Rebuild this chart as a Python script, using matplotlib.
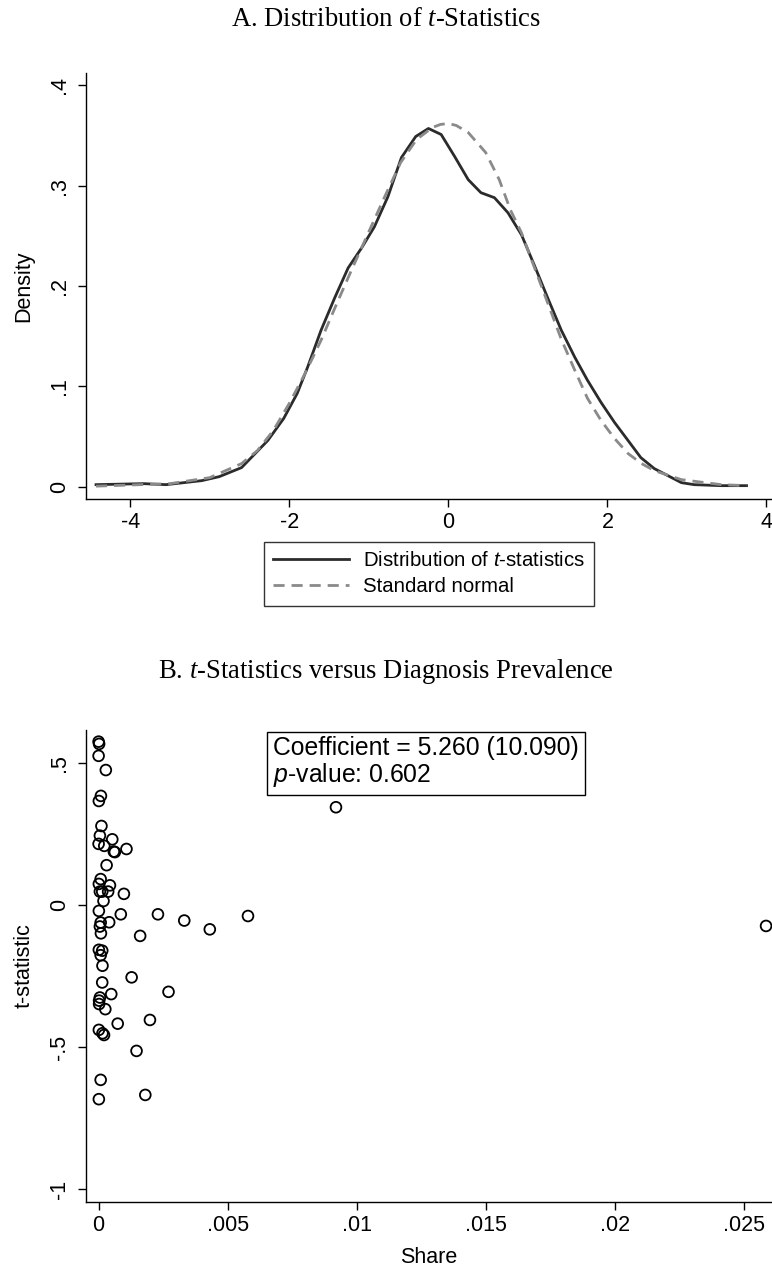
import matplotlib
matplotlib.use("Agg")
import matplotlib.pyplot as plt

plt.rcParams['font.family'] = ['Liberation Sans', 'DejaVu Sans']
plt.rcParams['axes.unicode_minus'] = False
plt.rcParams['mathtext.fontset'] = 'custom'
plt.rcParams['mathtext.it'] = 'Liberation Sans:italic'
plt.rcParams['mathtext.rm'] = 'Liberation Sans'
plt.rcParams['mathtext.sf'] = 'Liberation Serif:italic'

# panel A: kernel density of t-statistics vs normal reference
x_t = [-4.43, -3.83, -3.55, -3.10, -2.88, -2.60, -2.27, -2.07, -1.90, -1.77, -1.60, -1.43,
       -1.26, -1.09, -0.93, -0.76, -0.59, -0.41, -0.25, -0.09, 0.08, 0.25, 0.41, 0.58,
       0.75, 0.92, 1.08, 1.25, 1.42, 1.59, 1.75, 1.92, 2.09, 2.26, 2.42, 2.59, 2.76,
       2.93, 3.09, 3.43, 3.75]
dens_t = [0.002, 0.003, 0.002, 0.006, 0.010, 0.019, 0.046, 0.068, 0.093, 0.119, 0.156, 0.188,
          0.218, 0.238, 0.259, 0.289, 0.328, 0.349, 0.357, 0.351, 0.329, 0.306, 0.293, 0.288,
          0.273, 0.251, 0.221, 0.188, 0.156, 0.129, 0.106, 0.084, 0.064, 0.046, 0.029, 0.018,
          0.011, 0.004, 0.002, 0.001, 0.001]

x_n = [-4.43, -3.5, -3.0, -2.6, -2.4, -2.2, -2.0, -1.8, -1.6, -1.4, -1.2, -1.0, -0.8, -0.6,
       -0.4, -0.2, -0.1, 0.0, 0.1, 0.25, 0.47, 0.64, 0.78, 0.92, 1.08, 1.25, 1.42, 1.59,
       1.75, 1.92, 2.09, 2.26, 2.43, 2.59, 2.93, 3.43, 3.75]
dens_n = [0.0005, 0.003, 0.009, 0.023, 0.036, 0.056, 0.083, 0.113, 0.146, 0.183, 0.219, 0.254,
          0.289, 0.323, 0.346, 0.358, 0.361, 0.362, 0.360, 0.353, 0.333, 0.306, 0.276, 0.253,
          0.219, 0.183, 0.147, 0.116, 0.088, 0.066, 0.048, 0.033, 0.023, 0.016, 0.007, 0.002,
          0.001]

# panel B: t-statistic vs share
share = [0.0, 0.00002, 0.0, 0.00028, 0.00009, 0.00001, 0.00011, 0.00005, 0.00053, 0.0,
         0.00022, 0.00059, 0.00063, 0.00108, 0.00031, 0.00008, 0.00001, 0.00044, 0.00005,
         0.00014, 0.00037, 0.00098, 0.00019, 0.00001, 0.00086, 0.00230, 0.00008, 0.00041,
         0.00005, 0.00009, 0.00332, 0.00431, 0.00579, 0.00161, 0.00001, 0.00014, 0.00008,
         0.00015, 0.00128, 0.00014, 0.00271, 0.00049, 0.00005, 0.00002, 0.00002, 0.00026,
         0.00199, 0.00074, 0.00001, 0.00015, 0.00021, 0.00147, 0.00008, 0.00001, 0.00181,
         0.00920, 0.02587]
tstat = [0.576, 0.568, 0.526, 0.476, 0.385, 0.367, 0.279, 0.245, 0.232, 0.216,
         0.209, 0.189, 0.187, 0.198, 0.141, 0.092, 0.075, 0.070, 0.048,
         0.048, 0.048, 0.040, 0.015, -0.020, -0.032, -0.032, -0.061, -0.060,
         -0.075, -0.099, -0.054, -0.085, -0.038, -0.108, -0.157, -0.160, -0.176,
         -0.213, -0.254, -0.272, -0.305, -0.313, -0.325, -0.336, -0.348, -0.366,
         -0.404, -0.417, -0.439, -0.451, -0.457, -0.513, -0.615, -0.683, -0.668,
         0.345, -0.073]

coef_text = "Coefficient = 5.260 (10.090)\n$p$-value: 0.602"

W, H = 772, 1271
fig = plt.figure(figsize=(W / 100, H / 100), dpi=100)

def style(ax):
    for s in ['top', 'right']:
        ax.spines[s].set_visible(False)
    for s in ['left', 'bottom']:
        ax.spines[s].set_linewidth(1.0)
    ax.tick_params(direction='out', length=6, width=1.0, labelsize=15.5)
    ax.tick_params(axis='y', pad=5)
    for lab in ax.get_yticklabels():
        lab.set_rotation(90)
        lab.set_va('center')

def fmt(v):
    s = ('%g' % v)
    return s.replace('0.', '.', 1) if s.startswith('0.') else s.replace('-0.', '-.', 1)

# ---- panel A
axA = fig.add_axes([85.7 / W, 1 - 499.3 / H, 1 - 85.7 / W, (499.3 - 73.3) / H])
axA.plot(x_t, dens_t, color='#2b2b2b', lw=2.0, label='Distribution of $t$-statistics')
axA.plot(x_n, dens_n, color='#8a8a8a', lw=2.0, dashes=(4, 2.5), label='Standard normal')
axA.set_xlim(-4.56, 4.07)
axA.set_ylim(-0.0126, 0.412)
axA.set_xticks([-4, -2, 0, 2, 4])
axA.set_yticks([0, 0.1, 0.2, 0.3, 0.4])
axA.set_yticklabels([fmt(v) for v in [0, 0.1, 0.2, 0.3, 0.4]])
axA.set_ylabel('Density', fontsize=15.5, labelpad=11)
style(axA)
leg = axA.legend(loc='upper left', bbox_to_anchor=(264 / W, 1 - 542 / H),
                 bbox_transform=fig.transFigure, fontsize=14.7, frameon=True,
                 fancybox=False, handlelength=3.7, handletextpad=0.7,
                 borderpad=0.45, labelspacing=0.35, borderaxespad=0)
leg.get_frame().set_edgecolor('black')
leg.get_frame().set_linewidth(1.0)
fig.text(0.5, 1 - 20 / H, r'A. Distribution of $\mathsf{t}$-Statistics', ha='center',
         va='center', family='Liberation Serif', fontsize=19.2)

# ---- panel B
axB = fig.add_axes([85.7 / W, 1 - 1201.7 / H, 1 - 85.7 / W, (1201.7 - 730) / H])
axB.scatter(share, tstat, s=60, facecolors='none', edgecolors='black', linewidths=1.3)
axB.set_xlim(-0.0005, 0.0261)
axB.set_ylim(-1.044, 0.617)
xt = [0, 0.005, 0.01, 0.015, 0.02, 0.025]
axB.set_xticks(xt)
axB.set_xticklabels([fmt(v) for v in xt])
yt = [-1, -0.5, 0, 0.5]
axB.set_yticks(yt)
axB.set_yticklabels([fmt(v) for v in yt])
axB.set_xlabel('Share', fontsize=15.5, labelpad=8)
axB.set_ylabel('t-statistic', fontsize=15.5, labelpad=11)
style(axB)
axB.text(273 / W, 1 - 736 / H, coef_text,
         transform=fig.transFigure, ha='left', va='top', fontsize=17.8, linespacing=1.05,
         bbox=dict(boxstyle='square,pad=0.25', facecolor='white', edgecolor='black', lw=1.0))
fig.text(0.5, 1 - 671 / H, r'B. $\mathsf{t}$-Statistics versus Diagnosis Prevalence',
         ha='center', va='center', family='Liberation Serif', fontsize=19.2)

fig.savefig('out.png', dpi=100, facecolor='white')
